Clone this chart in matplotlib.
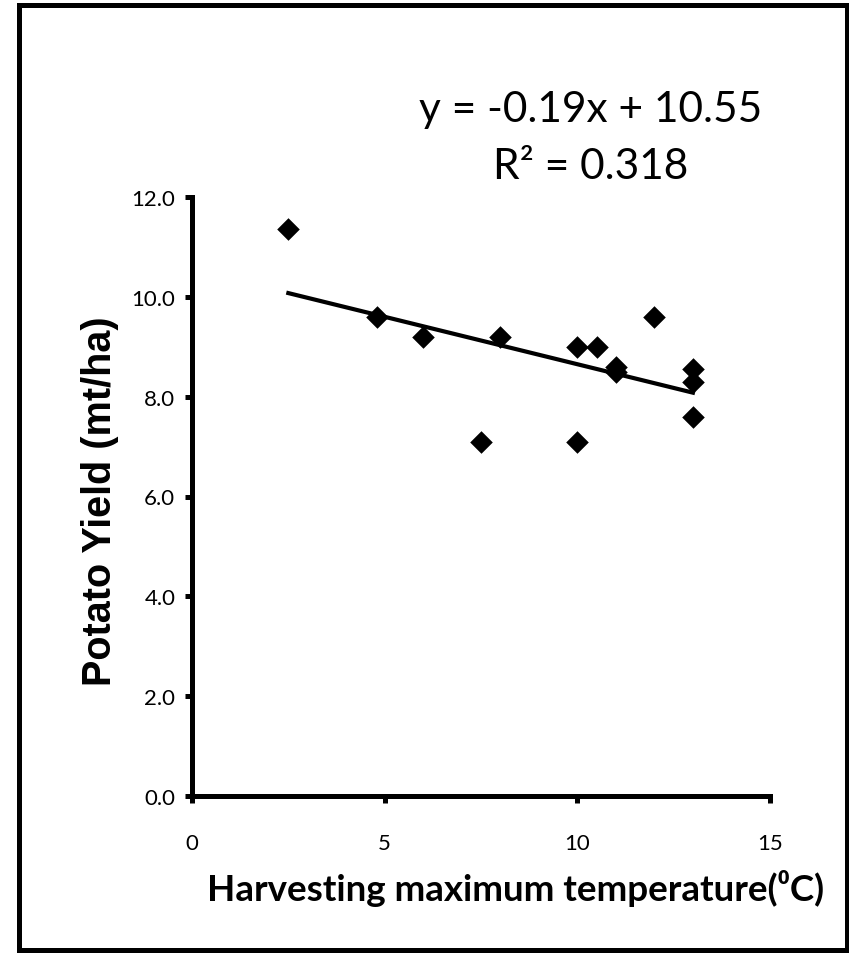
import matplotlib
matplotlib.use("Agg")
import matplotlib.pyplot as plt
from matplotlib.patches import Rectangle
from matplotlib.ticker import FormatStrFormatter

# Data
temperature = [2.5, 4.8, 6.0, 7.5, 8.0, 10.0, 10.0, 10.5, 11.0, 11.0, 12.0, 13.0, 13.0, 13.0]
yield_mt_ha = [11.35, 9.6, 9.2, 7.1, 9.2, 9.0, 7.1, 9.0, 8.6, 8.5, 9.6, 8.55, 8.3, 7.6]
slope = -0.19
intercept = 10.55
r_squared = 0.318
x_ticks = [0, 5, 10, 15]
y_ticks = [0, 2, 4, 6, 8, 10, 12]

W, H = 849, 954
fig = plt.figure(figsize=(W / 100, H / 100), dpi=100)
fig.patch.set_facecolor("white")

calibri_like = ["Lato", "DejaVu Sans"]

# outer frame
fig.patches.append(Rectangle((18.5 / W, 3.5 / H), (846.5 - 18.5) / W, (948 - 3.5) / H,
                             transform=fig.transFigure, fill=False,
                             edgecolor="black", linewidth=3.6, zorder=10))

left, right = 192 / W, 770 / W
bottom, top = (H - 797) / H, (H - 198) / H
ax = fig.add_axes([left, bottom, right - left, top - bottom])

ax.scatter(temperature, yield_mt_ha, marker="D", s=11.5 ** 2, color="black", zorder=3, linewidths=0)

x0, x1 = min(temperature), max(temperature)
ax.plot([x0, x1], [slope * x0 + intercept, slope * x1 + intercept], color="black", lw=3.0, zorder=2)

ax.set_xlim(0, 15)
ax.set_ylim(0, 12)
ax.set_xticks(x_ticks)
ax.set_yticks(y_ticks)
ax.yaxis.set_major_formatter(FormatStrFormatter("%.1f"))

for s in ["top", "right"]:
    ax.spines[s].set_visible(False)
for s in ["left", "bottom"]:
    ax.spines[s].set_linewidth(3.6)
    ax.spines[s].set_capstyle("projecting")

ax.tick_params(axis="x", direction="out", length=5, width=3.6, pad=22, labelsize=16)
ax.tick_params(axis="y", direction="out", length=5, width=3.6, pad=7, labelsize=16)
for lab in ax.get_xticklabels() + ax.get_yticklabels():
    lab.set_family(calibri_like)

fig.text(100 / W, 1 - 501 / H, "Potato Yield (mt/ha)", rotation=90, ha="center", va="center",
         fontsize=28.5, fontweight="bold", family=["Liberation Sans", "DejaVu Sans"])
fig.text(516 / W, 1 - 889 / H, "Harvesting maximum temperature(\u2070C)", ha="center", va="center",
         fontsize=26.5, fontweight="bold", family=calibri_like)

fig.text(591 / W, 1 - 110 / H, f"y = {slope:.2f}x + {intercept:.2f}", ha="center", va="center",
         fontsize=30.5, family=calibri_like)
fig.text(591 / W, 1 - 167 / H, f"R\u00b2 = {r_squared:.3f}", ha="center", va="center",
         fontsize=30.5, family=calibri_like)

fig.savefig("out.png", dpi=100, facecolor="white")
